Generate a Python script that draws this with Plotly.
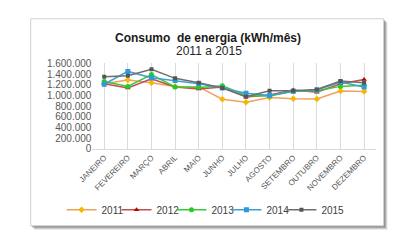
import plotly.graph_objects as go

# browser body margin (8px) offsets the figure; compensate
OFF = 8
W, H = 401 - OFF, 248 - OFF

months = ["JANEIRO", "FEVEREIRO", "MARÇO", "ABRIL", "MAIO", "JUNHO", "JULHO",
          "AGOSTO", "SETEMBRO", "OUTUBRO", "NOVEMBRO", "DEZEMBRO"]

s2011 = [1220000, 1290000, 1240000, 1170000, 1160000, 930000, 875000, 960000, 940000, 935000, 1085000, 1075000]
s2012 = [1220000, 1140000, 1310000, 1160000, 1120000, 1160000, 970000, 1010000, 1100000, 1060000, 1220000, 1300000]
s2013 = [1260000, 1170000, 1390000, 1160000, 1150000, 1180000, 1000000, 990000, 1080000, 1090000, 1170000, 1190000]
s2014 = [1210000, 1450000, 1330000, 1280000, 1220000, 1140000, 1040000, 1000000, 1080000, 1100000, 1250000, 1160000]
s2015 = [1350000, 1370000, 1490000, 1320000, 1240000, 1140000, 975000, 1090000, 1090000, 1110000, 1270000, 1240000]

ytick_vals = [0, 200000, 400000, 600000, 800000, 1000000, 1200000, 1400000, 1600000]
ytick_text = ["0", "200.000", "400.000", "600.000", "800.000", "1.000.000",
              "1.200.000", "1.400.000", "1.600.000"]

series = [
    ("2011", s2011, "#F0A060", "#F5B800", "diamond", 5),
    ("2012", s2012, "#C0504D", "#C00000", "triangle-up", 5),
    ("2013", s2013, "#3CC83C", "#22CC22", "circle", 5),
    ("2014", s2014, "#3FA0D0", "#2E9BD6", "square", 5),
    ("2015", s2015, "#6E6E6E", "#555555", "square", 4),
]

def px_x(x):
    return (x - OFF) / W

def px_y(y):
    return 1 - (y - OFF) / H

fig = go.Figure()
legend_layouts = {}
for i, (name, vals, lc, mc, sym, ms) in enumerate(series):
    lname = "legend" if i == 0 else f"legend{i + 1}"
    fig.add_trace(go.Scatter(
        x=months, y=vals, name=name, mode="lines+markers",
        line=dict(color=lc, width=1.5),
        marker=dict(color=mc, symbol=sym, size=ms),
        legend=lname,
    ))
    legend_layouts[lname] = dict(
        x=px_x(49 + 57 * i), xanchor="left", y=px_y(214), yanchor="middle",
        font=dict(size=10, color="#404040"), itemwidth=30,
        bgcolor="rgba(0,0,0,0)", borderwidth=0,
    )

shapes = []
# shadow
for off, op in [(4, 0.15), (3, 0.25), (2, 0.35), (1, 0.45)]:
    shapes.append(dict(type="rect", xref="paper", yref="paper", layer="below",
                       x0=px_x(17 + off), x1=px_x(383 + off),
                       y0=px_y(231 + off), y1=px_y(13 + off),
                       fillcolor=f"rgba(90,90,90,{op})", line=dict(width=0)))
shapes.append(dict(type="rect", xref="paper", yref="paper", layer="below",
                   x0=px_x(17), x1=px_x(383), y0=px_y(231), y1=px_y(13),
                   fillcolor="white", line=dict(color="#d0d0d0", width=1)))

fig.update_layout(
    width=W, height=H,
    margin=dict(l=0, r=0, t=0, b=0),
    paper_bgcolor="white", plot_bgcolor="white",
    font=dict(family="Liberation Sans, Arial, sans-serif", color="#595959"),
    shapes=shapes,
    showlegend=True,
    annotations=[
        dict(text="<b>Consumo  de energia (kWh/mês)</b>", x=px_x(201), y=px_y(33),
             xref="paper", yref="paper", showarrow=False, xanchor="center", yanchor="middle",
             font=dict(size=12, color="#1a1a1a")),
        dict(text="2011 a 2015", x=px_x(202), y=px_y(47),
             xref="paper", yref="paper", showarrow=False, xanchor="center", yanchor="middle",
             font=dict(size=12, color="#262626")),
    ],
    xaxis=dict(
        type="category", range=[-0.5, 11.5],
        domain=[px_x(81), px_x(375)],
        showgrid=True, gridcolor="#dcdcdc", gridwidth=1,
        showline=True, linecolor="#d9d9d9", linewidth=1,
        tickangle=-45, tickfont=dict(size=8, color="#595959"),
        ticks="", zeroline=False,
    ),
    yaxis=dict(
        range=[0, 1600000], domain=[px_y(150), px_y(60)],
        tickvals=ytick_vals, ticktext=ytick_text,
        tickfont=dict(size=10, color="#595959"),
        showgrid=False, zeroline=False, showline=False, ticks="",
    ),
    **legend_layouts,
)

fig.write_html("out.html")
